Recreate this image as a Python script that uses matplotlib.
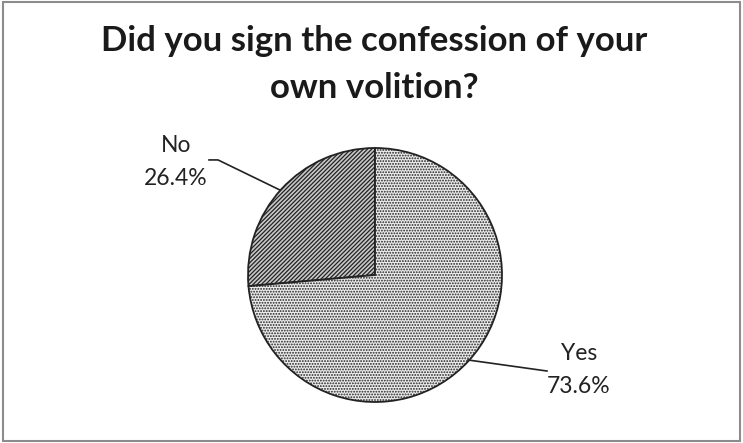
import matplotlib.pyplot as plt
from matplotlib.patches import Rectangle

labels = ["No", "Yes"]
shares = [26.4, 73.6]
hatches = ["////////", "......"]
fills = ["#c8c8c8", "#ececec"]
title_lines = ["Did you sign the confession of your", "own volition?"]

W, H = 743, 443
fig = plt.figure(figsize=(W / 100, H / 100), dpi=100)
plt.rcParams["hatch.linewidth"] = 0.9

# pie centre (375, 275) px from top-left, radius 127 px
cx, cy, r = 375, 275, 127
ax = fig.add_axes([(cx - r) / W, (H - cy - r) / H, 2 * r / W, 2 * r / H])
wedges, _ = ax.pie(shares, startangle=90, counterclock=True, radius=1,
                   colors=fills,
                   wedgeprops=dict(edgecolor="#222222", linewidth=1.3))
for w, h in zip(wedges, hatches):
    w.set_hatch(h)
ax.set_xlim(-1, 1)
ax.set_ylim(-1, 1)
ax.set_aspect("equal")
ax.axis("off")

font = "Lato"
ax.text(-1.567, 0.89, f"{labels[0]}\n{shares[0]:.1f}%", ha="center", va="center",
        fontsize=16.5, family=font, color="#222222", linespacing=1.7, clip_on=False)
ax.text(1.606, -0.748, f"{labels[1]}\n{shares[1]:.1f}%", ha="center", va="center",
        fontsize=16.5, family=font, color="#222222", linespacing=1.7, clip_on=False)

ax.plot([-0.748, -1.236, -1.307], [0.669, 0.906, 0.906], color="#222222",
        lw=1.2, clip_on=False)
ax.plot([0.732, 1.354], [-0.669, -0.756], color="#222222", lw=1.2, clip_on=False)

for line, base in zip(title_lines, [51, 98]):
    fig.text(374 / W, 1 - base / H, line, ha="center", va="baseline", fontsize=25,
             fontweight="bold", family=font, color="#1a1a1a")

fig.patches.append(Rectangle((3 / W, 2 / H), 737 / W, 439 / H, transform=fig.transFigure,
                             fill=False, edgecolor="#8c8c8c", linewidth=1.5))

fig.savefig("out.png", dpi=100)
